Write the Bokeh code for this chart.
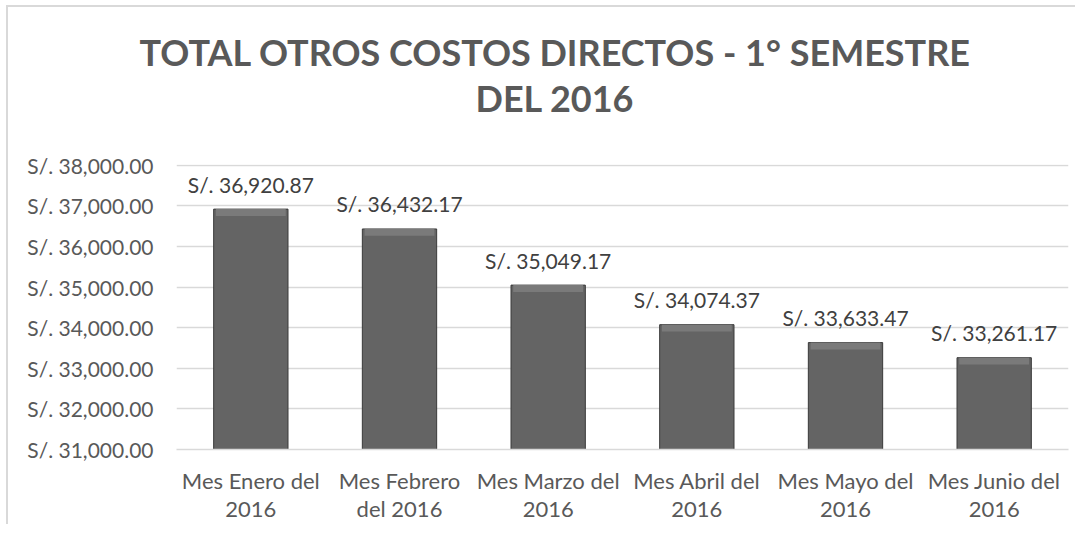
from bokeh.plotting import figure
from bokeh.layouts import column
from bokeh.models import FactorRange, Range1d, FixedTicker, ColumnDataSource, Title
from bokeh.core.properties import value
from bokeh.embed import file_html
from bokeh.resources import INLINE

# ---- data ----
months = ["Mes Enero del\n2016", "Mes Febrero\ndel 2016", "Mes Marzo del\n2016",
          "Mes Abril del\n2016", "Mes Mayo del\n2016", "Mes Junio del\n2016"]
values = [36920.87, 36432.17, 35049.17, 34074.37, 33633.47, 33261.17]
value_labels = ["S/. 36,920.87", "S/. 36,432.17", "S/. 35,049.17",
                "S/. 34,074.37", "S/. 33,633.47", "S/. 33,261.17"]
y_ticks = [31000, 32000, 33000, 34000, 35000, 36000, 37000, 38000]
y_tick_labels = ["S/. 31,000.00", "S/. 32,000.00", "S/. 33,000.00", "S/. 34,000.00",
                 "S/. 35,000.00", "S/. 36,000.00", "S/. 37,000.00", "S/. 38,000.00"]
title_lines = ["TOTAL OTROS COSTOS DIRECTOS - 1° SEMESTRE", "DEL 2016"]

FONT = "Lato"
FS = "21px"
W = 1075
T_H = 150        # title strip height
FL, FR = 176, 1068   # frame left / right (pixels)

# ---- title strip (titles live in its top panel, aligned by offset) ----
t = figure(width=W, height=T_H, x_range=Range1d(0, 1), y_range=Range1d(0, 1),
           output_backend="svg", toolbar_location=None,
           x_axis_location=None, y_axis_location=None,
           min_border_left=0, min_border_right=0,
           min_border_top=119, min_border_bottom=0)
t.grid.visible = False
t.outline_line_color = None
t.background_fill_color = None
t.border_fill_color = None
title_offsets = [-37, 299]
for txt, off in reversed(list(zip(title_lines, title_offsets))):
    t.add_layout(Title(text=txt, align="left", offset=off, standoff=0,
                       text_font=FONT, text_font_style="bold",
                       text_font_size="36px", text_color="#595959",
                       text_line_height=1.12), "above")

# ---- main chart ----
p = figure(x_range=FactorRange(*months), y_range=Range1d(31000, 38020),
           frame_width=FR - FL, frame_height=285,
           output_backend="svg", toolbar_location=None,
           min_border_left=FL, min_border_right=W - FR, min_border_top=14,
           min_border_bottom=0)
p.outline_line_color = None
p.border_fill_color = None

src = ColumnDataSource(dict(x=months, top=values, lab=value_labels,
                            bev=[v - 170 for v in values]))
p.vbar(x="x", top="top", bottom=31000, width=0.5, source=src,
       fill_color="#646464", line_color="#3a3a3a", line_width=1)
p.vbar(x="x", top="top", bottom="bev", width=0.47, source=src,
       fill_color="#7a7a7a", line_color=None)
p.text(x="x", y="top", text="lab", source=src, text_align="center",
       text_baseline="middle", y_offset=-25, text_font_size=FS,
       text_color="#404040", text_font=value(FONT))

p.yaxis.ticker = FixedTicker(ticks=y_ticks)
p.yaxis.major_label_overrides = {t_: l for t_, l in zip(y_ticks, y_tick_labels)}
p.yaxis.axis_line_color = None
p.yaxis.major_tick_line_color = None
p.yaxis.minor_tick_line_color = None
p.yaxis.major_label_standoff = 17
p.yaxis.major_label_text_font = FONT
p.yaxis.major_label_text_font_size = FS
p.yaxis.major_label_text_color = "#595959"

p.xaxis.axis_line_color = "#d9d9d9"
p.xaxis.axis_line_width = 1.5
p.xaxis.major_tick_line_color = None
p.xaxis.minor_tick_line_color = None
p.xaxis.major_label_standoff = 11
p.xaxis.major_label_text_font = FONT
p.xaxis.major_label_text_font_size = "22px"
p.xaxis.major_label_text_color = "#595959"
p.xaxis.major_label_text_line_height = 1.05

p.xgrid.grid_line_color = None
p.ygrid.grid_line_color = "#d9d9d9"
p.ygrid.grid_line_width = 1.5

layout = column(t, p, spacing=0, styles={
    "background-image": "linear-gradient(#d9d9d9, #d9d9d9), linear-gradient(#d9d9d9, #d9d9d9)",
    "background-position": "6px 5px, 6px 5px",
    "background-size": "2px 100%, 100% 2px",
    "background-repeat": "no-repeat",
})
open("out.html", "w").write(file_html(layout, INLINE))
